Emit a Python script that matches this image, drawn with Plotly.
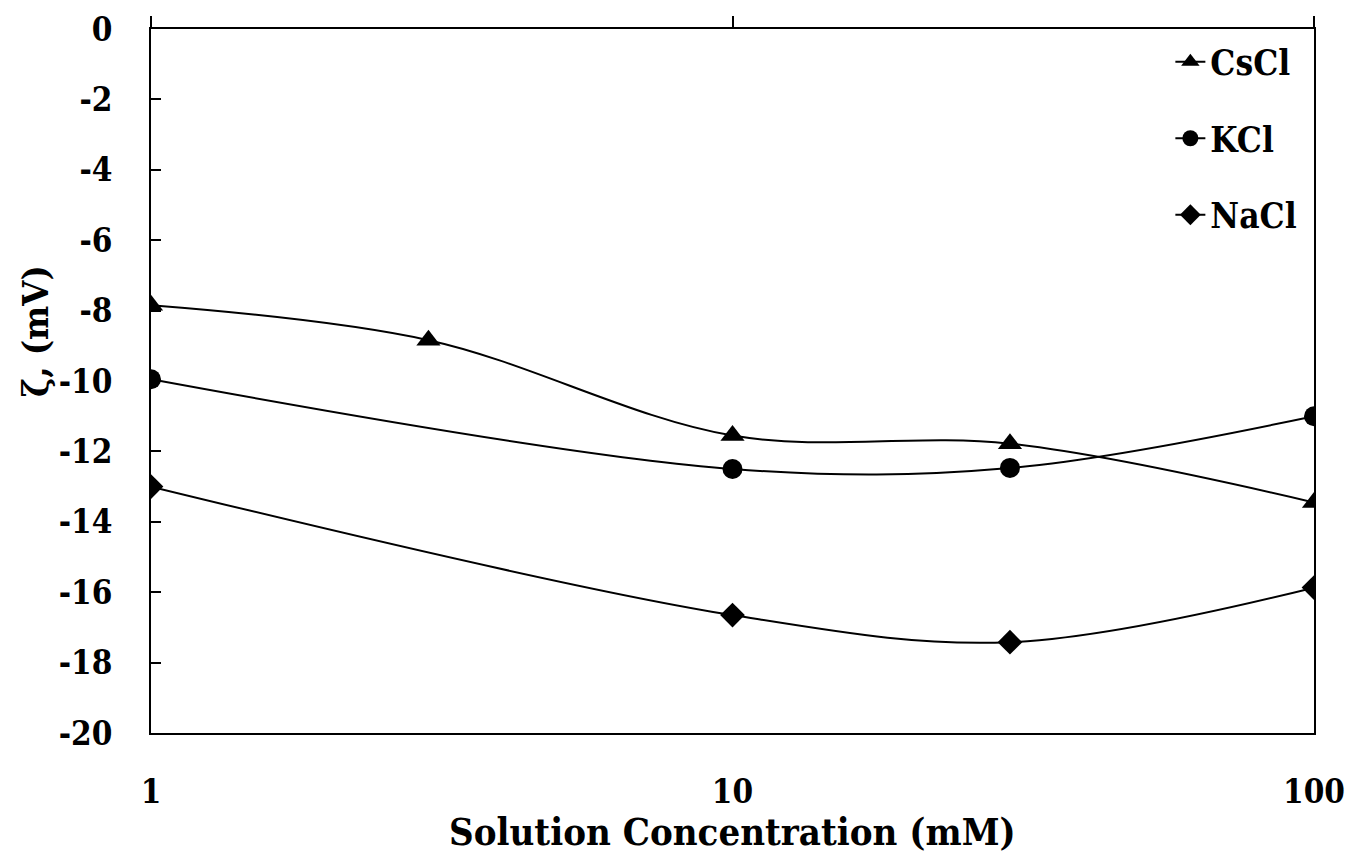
import plotly.graph_objects as go

conc_cs = [1, 3, 10, 30, 100]
zeta_cs = [-7.85, -8.84, -11.55, -11.78, -13.45]
conc_k = [1, 10, 30, 100]
zeta_k = [-9.95, -12.5, -12.47, -11.0]
conc_na = [1, 10, 30, 100]
zeta_na = [-13.0, -16.65, -17.42, -15.87]

x_ticks = [1, 10, 100]
y_ticks = list(range(-20, 1, 2))

FONT = "DejaVu Serif Condensed, DejaVu Serif"
fig = go.Figure()

def add(x, y, name, symbol, size):
    fig.add_trace(go.Scatter(
        x=x, y=y, name=name, mode="lines+markers", legendgroup=name,
        line=dict(color="black", width=2, shape="spline", smoothing=1),
        marker=dict(symbol=symbol, size=size, color="black"),
    ))

add(conc_cs, zeta_cs, "CsCl", "triangle-up", 21)
add(conc_k, zeta_k, "KCl", "circle", 20)
add(conc_na, zeta_na, "NaCl", "diamond", 19)

# top axis with outward ticks only
fig.add_trace(go.Scatter(x=[1, 100], y=[0, 0], xaxis="x2", mode="none",
                         showlegend=False, hoverinfo="skip"))

fig.update_layout(
    width=1348, height=856,
    margin=dict(l=151, r=34, t=29, b=123, autoexpand=False),
    plot_bgcolor="white", paper_bgcolor="white",
    font=dict(family=FONT, size=32, color="black"),
    showlegend=True,
    legend=dict(x=0.99, y=0.995, xanchor="right", yanchor="top",
                font=dict(family=FONT, size=35, color="black", weight="bold"),
                bgcolor="rgba(0,0,0,0)", tracegroupgap=28,
                itemwidth=30),
    xaxis=dict(type="log", range=[0, 2], tickvals=x_ticks,
               ticktext=[str(v) for v in x_ticks],
               ticks="", showgrid=False, zeroline=False, automargin=False,
               showline=True, linecolor="black", linewidth=2,
               mirror=True, ticklabelstandoff=28,
               tickfont=dict(family=FONT, size=33, weight="bold")),
    xaxis2=dict(type="log", range=[0, 2], overlaying="x", side="top",
                tickvals=x_ticks, showticklabels=False, ticks="outside",
                ticklen=12, tickwidth=2, tickcolor="black", automargin=False,
                showgrid=False, zeroline=False, showline=False),
    yaxis=dict(range=[-20, 0], tickvals=y_ticks,
               ticktext=[str(v) for v in y_ticks],
               ticks="inside", ticklen=10, tickwidth=1.5, tickcolor="black",
               showgrid=False, zeroline=False, automargin=False,
               showline=True, linecolor="black", linewidth=2, mirror=True,
               ticklabelstandoff=30,
               tickfont=dict(family=FONT, size=33, weight="bold")),
    annotations=[
        dict(text="<b>Solution Concentration (mM)</b>", xref="paper", yref="paper",
             x=0.5, y=0, yshift=-98, xanchor="center", yanchor="middle",
             showarrow=False, font=dict(family=FONT, size=38)),
        dict(text="<b>ζ, (mV)</b>", xref="paper", yref="paper",
             x=0, xshift=-116, y=0.5, yshift=50, textangle=-90,
             xanchor="center", yanchor="middle",
             showarrow=False, font=dict(family=FONT, size=36)),
    ],
)

fig.write_html("out.html")
